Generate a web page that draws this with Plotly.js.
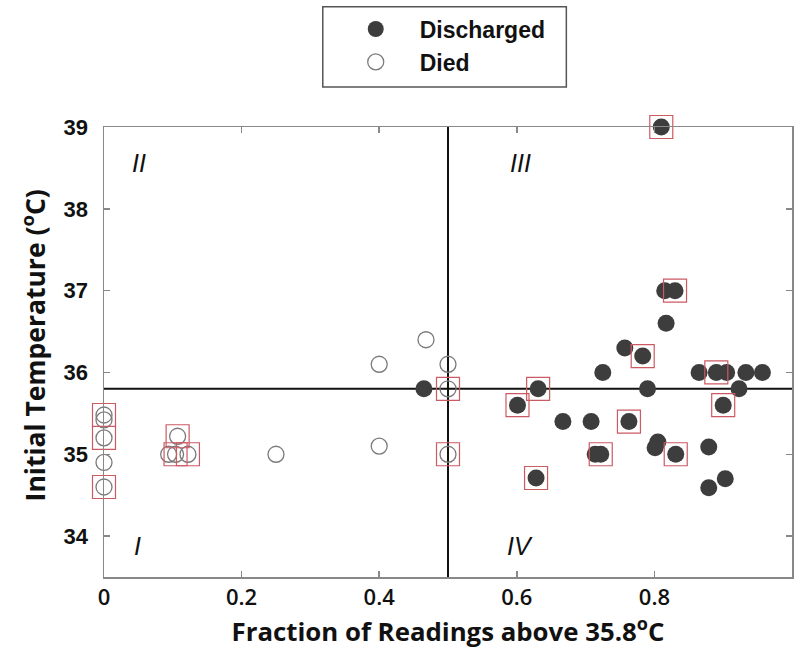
<!DOCTYPE html>
<html>
<head>
<meta charset="utf-8">
<script src="https://cdn.plot.ly/plotly-3.0.1.min.js"></script>
<style>body{margin:0;padding:0;background:#fff;} #chart{width:795px;height:655px;}</style>
</head>
<body>
<div id="chart"></div>
<script>
// ---- Data ----
const dischargedX = [0.465, 0.81, 0.815, 0.83, 0.817, 0.757, 0.783, 0.725, 0.865, 0.89, 0.905, 0.933, 0.957, 0.923, 0.79, 0.631, 0.601, 0.90, 0.667, 0.708, 0.763, 0.714, 0.722, 0.805, 0.801, 0.831, 0.879, 0.903, 0.879, 0.628];
const dischargedY = [35.8, 39.0, 37.0, 37.0, 36.6, 36.3, 36.2, 36.0, 36.0, 36.0, 36.0, 36.0, 36.0, 35.8, 35.8, 35.8, 35.6, 35.6, 35.4, 35.4, 35.4, 35.0, 35.0, 35.15, 35.08, 35.0, 35.09, 34.7, 34.59, 34.71];
const dischargedBoxed = [0,1,0,1,0,0,1,0,0,1,0,0,0,0,0,1,1,1,0,0,1,0,1,0,0,1,0,0,0,1];

const diedX = [0, 0, 0, 0, 0, 0.107, 0.094, 0.104, 0.122, 0.25, 0.40, 0.40, 0.468, 0.5, 0.5, 0.5];
const diedY = [35.48, 35.42, 35.2, 34.9, 34.6, 35.22, 35.0, 35.0, 35.0, 35.0, 35.1, 36.1, 36.4, 36.1, 35.8, 35.0];
const diedBoxed = [1,0,1,0,1,1,0,1,1,0,0,0,0,0,1,1];

const thresholdFraction = 0.5;
const thresholdTemp = 35.8;

const xTickVals = [0, 0.2, 0.4, 0.6, 0.8, 1];
const xTickText = ['0', '0.2', '0.4', '0.6', '0.8', '1'];
const yTickVals = [34, 35, 36, 37, 38, 39];
const yTickText = ['34', '35', '36', '37', '38', '39'];

const xTitle = 'Fraction of Readings above 35.8<sup>o</sup>C';
const yTitle = 'Initial Temperature (<sup>o</sup>C)';

const quadrantLabels = ['I', 'II', 'III', 'IV'];
const quadrantX = [0.048, 0.051, 0.605, 0.605];
const quadrantY = [33.88, 38.56, 38.56, 33.88];

// ---- Build traces ----
const boxX = [], boxY = [];
dischargedX.forEach((v, i) => { if (dischargedBoxed[i]) { boxX.push(v); boxY.push(dischargedY[i]); } });
diedX.forEach((v, i) => { if (diedBoxed[i]) { boxX.push(v); boxY.push(diedY[i]); } });

const traces = [
  {
    type: 'scatter', mode: 'markers', name: 'Discharged',
    x: dischargedX, y: dischargedY, cliponaxis: false,
    marker: {symbol: 'circle', size: 17, color: '#3d3d3d', line: {width: 0}}
  },
  {
    type: 'scatter', mode: 'markers', name: 'Died',
    x: diedX, y: diedY, cliponaxis: false,
    marker: {symbol: 'circle-open', size: 16, color: '#7a7a7a', line: {width: 1.3, color: '#7a7a7a'}}
  },
  {
    type: 'scatter', mode: 'markers', name: 'boxed', showlegend: false,
    x: boxX, y: boxY, cliponaxis: false, hoverinfo: 'skip',
    marker: {symbol: 'square-open', size: 23, color: '#cc5a63', line: {width: 1.2, color: '#cc5a63'}}
  }
];

const font = 'Liberation Sans, Arial, sans-serif';
const titleFont = 'Open Sans, sans-serif';

const annotations = quadrantLabels.map((t, i) => ({
  x: quadrantX[i], y: quadrantY[i], xref: 'x', yref: 'y', text: '<i>' + t + '</i>',
  showarrow: false, xanchor: 'center', yanchor: 'middle',
  font: {family: font, size: 25, color: '#111'}
}));
annotations.push({
  x: -0.103, y: 0.515, xref: 'paper', yref: 'paper', text: yTitle, textangle: -90,
  showarrow: false, xanchor: 'center', yanchor: 'middle',
  font: {family: titleFont, size: 26.5, color: '#111', weight: 'bold'}
});

const layout = {
  width: 795, height: 655,
  margin: {l: 104, r: 3, t: 127, b: 78},
  paper_bgcolor: '#ffffff', plot_bgcolor: '#ffffff',
  showlegend: true,
  legend: {
    x: 0.331, y: 1.2655, xanchor: 'left', yanchor: 'top',
    bgcolor: 'rgba(0,0,0,0)', borderwidth: 0, itemwidth: 78,
    font: {family: font, size: 23, color: '#111', weight: 'bold'},
    traceorder: 'normal'
  },
  xaxis: {
    range: [0, 1], tickvals: xTickVals, ticktext: xTickText,
    ticks: 'inside', ticklen: 6, tickcolor: '#888', tickwidth: 1.5,
    showline: true, linecolor: '#888', linewidth: 1.5, mirror: 'ticks',
    showgrid: false, zeroline: false,
    tickfont: {family: titleFont, size: 22, color: '#111', weight: 600},
    title: {text: xTitle, standoff: 0,
            font: {family: titleFont, size: 25.8, color: '#111', weight: 'bold'}}
  },
  yaxis: {
    range: [33.5, 39], tickvals: yTickVals, ticktext: yTickText,
    ticks: 'inside', ticklen: 6, tickcolor: '#888', tickwidth: 1.5,
    showline: true, linecolor: '#888', linewidth: 1.5, mirror: 'ticks',
    showgrid: false, zeroline: false,
    tickfont: {family: font, size: 22, color: '#111', weight: 'bold'},
    ticklabelstandoff: 10
  },
  shapes: [
    {type: 'line', xref: 'x', yref: 'y', x0: thresholdFraction, x1: thresholdFraction, y0: 33.5, y1: 39,
     line: {color: '#111', width: 2}, layer: 'below'},
    {type: 'line', xref: 'x', yref: 'y', x0: 0, x1: 1, y0: thresholdTemp, y1: thresholdTemp,
     line: {color: '#111', width: 2}, layer: 'below'},
    {type: 'rect', xref: 'paper', yref: 'paper', x0: 0.318, x1: 0.672, y0: 1.089, y1: 1.267,
     line: {color: '#555', width: 1.5}, fillcolor: 'rgba(0,0,0,0)'}
  ],
  annotations: annotations
};

Plotly.newPlot('chart', traces, layout, {displayModeBar: false, staticPlot: true});
</script>
</body>
</html>
